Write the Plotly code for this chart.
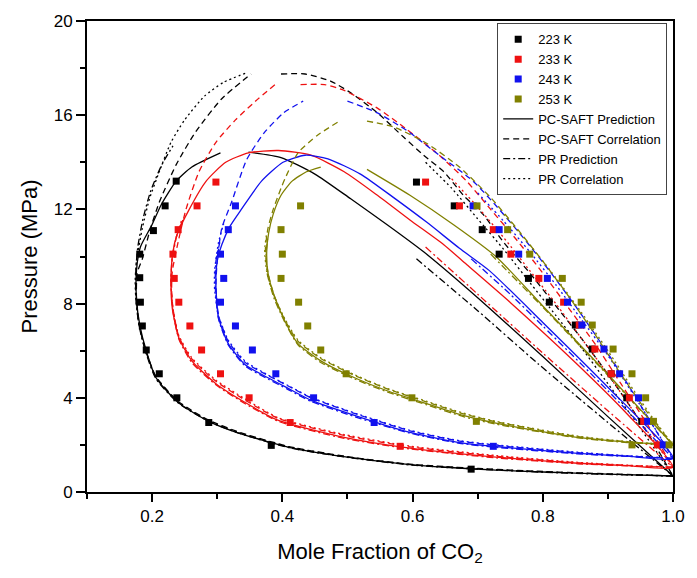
import plotly.graph_objects as go

# ---------------- experimental VLE data (mole fraction CO2, pressure MPa) ----------------
x223_exp = [0.237, 0.220, 0.202, 0.181, 0.181, 0.182, 0.185, 0.191, 0.211, 0.238, 0.287, 0.383, 0.690,
            0.606, 0.664, 0.707, 0.733, 0.778, 0.810, 0.850, 0.876, 0.905, 0.929, 0.952]
p223_exp = [13.2, 12.15, 11.1, 10.1, 9.1, 8.06, 7.05, 6.03, 5.02, 4.0, 2.95, 1.98, 0.97,
            13.16, 12.15, 11.14, 10.1, 9.07, 8.06, 7.09, 6.07, 5.02, 4.0, 3.0]

x233_exp = [0.298, 0.269, 0.240, 0.232, 0.234, 0.241, 0.258, 0.276, 0.305, 0.349, 0.412, 0.581,
            0.620, 0.672, 0.724, 0.751, 0.794, 0.832, 0.856, 0.880, 0.905, 0.933, 0.955, 0.976]
p233_exp = [13.16, 12.15, 11.14, 10.1, 9.07, 8.06, 7.05, 6.03, 5.02, 4.0, 2.95, 1.94,
            13.16, 12.15, 11.14, 10.1, 9.07, 8.06, 7.09, 6.07, 5.02, 4.0, 3.0, 2.0]

x243_exp = [0.328, 0.317, 0.305, 0.310, 0.305, 0.328, 0.354, 0.390, 0.448, 0.541, 0.724,
            0.693, 0.733, 0.763, 0.807, 0.838, 0.860, 0.894, 0.918, 0.947, 0.961, 0.985]
p243_exp = [12.15, 11.14, 10.1, 9.07, 8.06, 7.05, 6.03, 5.02, 4.0, 2.95, 1.94,
            12.15, 11.14, 10.1, 9.07, 8.06, 7.09, 6.07, 5.02, 4.0, 3.0, 2.0]

x253_exp = [0.428, 0.398, 0.400, 0.398, 0.425, 0.439, 0.459, 0.498, 0.599, 0.698, 0.937,
            0.699, 0.746, 0.780, 0.830, 0.859, 0.876, 0.908, 0.937, 0.958, 0.970, 0.994]
p253_exp = [12.15, 11.14, 10.1, 9.07, 8.06, 7.05, 6.03, 5.02, 4.0, 3.0, 2.0,
            12.15, 11.14, 10.1, 9.07, 8.06, 7.09, 6.07, 5.02, 4.0, 3.0, 2.0]

# ---------------- 223 K model curves ----------------
x223_saft_pred = [1.0, 0.9, 0.8, 0.728, 0.65, 0.6, 0.5, 0.41, 0.333, 0.287, 0.24, 0.206, 0.191, 0.181, 0.176,
                  0.176, 0.182, 0.199, 0.214, 0.237, 0.261, 0.305, None,
                  0.348, 0.398, 0.45, 0.505, 0.561, 0.617, 0.7, 0.8, 0.9, 1.0]
p223_saft_pred = [0.68, 0.76, 0.85, 0.93, 1.05, 1.15, 1.48, 1.9, 2.5, 3.0, 3.8, 4.85, 6.0, 7.1, 8.2,
                  9.4, 10.4, 11.3, 12.2, 13.2, 13.8, 14.4, None,
                  14.43, 14.2, 13.5, 12.45, 11.35, 10.2, 8.25, 5.75, 3.2, 0.68]

x223_saft_corr = [1.0, 0.9, 0.8, 0.7, 0.6, 0.5, 0.41, 0.333, 0.287, 0.24, 0.206, 0.19, 0.18, 0.176, 0.177,
                  0.185, 0.196, 0.211, 0.237, 0.267, 0.307, 0.352, None,
                  0.398, 0.435, 0.474, 0.505, 0.546, 0.587, 0.617, 0.648, 0.678, 0.708, 0.74, 0.78, 0.82,
                  0.86, 0.9, 0.94, 0.97, 1.0]
p223_saft_corr = [0.68, 0.77, 0.87, 1.0, 1.17, 1.5, 1.93, 2.55, 3.05, 3.85, 4.9, 6.0, 7.1, 8.2, 9.3,
                  9.9, 11.05, 12.3, 13.9, 15.3, 16.7, 17.75, None,
                  17.75, 17.75, 17.45, 16.95, 16.1, 15.05, 14.3, 13.6, 12.6, 11.8, 10.6, 9.3, 7.9,
                  6.5, 5.0, 3.4, 2.1, 0.68]

x223_pr_pred = [1.0, 0.9, 0.8, 0.7, 0.6, 0.5, 0.41, 0.333, 0.287, 0.24, 0.206, 0.19, 0.18, 0.175, 0.175,
                0.178, 0.186, 0.198, 0.215, 0.232, None, 0.606, 0.7, 0.793, 0.9, 1.0]
p223_pr_pred = [0.68, 0.75, 0.84, 0.97, 1.14, 1.47, 1.88, 2.5, 3.0, 3.78, 4.8, 5.95, 7.05, 8.2, 9.4,
                10.4, 11.6, 12.8, 13.9, 14.7, None, 9.9, 7.7, 5.44, 2.95, 0.68]

x223_pr_corr = [1.0, 0.9, 0.8, 0.7, 0.6, 0.5, 0.41, 0.333, 0.287, 0.24, 0.206, 0.19, 0.18, 0.175, 0.174,
                0.176, 0.185, 0.196, 0.211, 0.229, 0.25, 0.28, 0.31, 0.345, None,
                0.62, 0.66, 0.7, 0.74, 0.78, 0.82, 0.86, 0.9, 0.94, 0.97, 1.0]
p223_pr_corr = [0.68, 0.76, 0.86, 0.99, 1.16, 1.49, 1.92, 2.52, 3.02, 3.82, 4.88, 6.0, 7.1, 8.2, 9.0,
                9.8, 11.2, 12.45, 13.6, 14.85, 15.8, 16.8, 17.4, 17.8, None,
                14.0, 12.9, 11.6, 10.3, 8.9, 7.5, 6.1, 4.6, 3.1, 1.9, 0.68]

# ---------------- 233 K model curves ----------------
x233_saft_pred = [1.0, 0.93, 0.854, 0.728, 0.596, 0.495, 0.394, 0.343, 0.298, 0.261, 0.241, 0.231, 0.229,
                  0.232, 0.238, 0.257, 0.283, 0.313, 0.348, 0.394, 0.444, 0.495, 0.546, 0.596, 0.648,
                  0.683, 0.75, 0.85, 0.93, 1.0]
p233_saft_pred = [1.05, 1.12, 1.22, 1.48, 1.86, 2.32, 3.04, 3.8, 4.6, 5.57, 6.55, 7.8, 9.07,
                  10.2, 10.9, 12.0, 13.2, 14.0, 14.4, 14.5, 14.3, 13.6, 12.6, 11.55, 10.5,
                  9.66, 8.05, 5.5, 3.3, 1.05]

x233_saft_corr = [1.0, 0.93, 0.854, 0.728, 0.596, 0.495, 0.394, 0.343, 0.298, 0.261, 0.241, 0.232, 0.23,
                  0.231, 0.241, 0.252, 0.272, 0.298, 0.328, 0.359, 0.389, None,
                  0.428, 0.465, 0.495, 0.546, 0.591, 0.641, 0.683, 0.72, 0.76, 0.8, 0.84, 0.88, 0.92,
                  0.96, 1.0]
p233_saft_corr = [1.05, 1.13, 1.24, 1.52, 1.92, 2.4, 3.12, 3.9, 4.7, 5.65, 6.6, 7.8, 8.6,
                  9.37, 10.75, 12.0, 13.6, 14.85, 15.8, 16.6, 17.3, None,
                  17.3, 17.3, 17.05, 16.3, 15.4, 14.3, 13.2, 12.0, 10.7, 9.3, 7.8, 6.3, 4.6,
                  2.9, 1.05]

x233_pr_pred = [1.0, 0.93, 0.854, 0.728, 0.596, 0.495, 0.394, 0.343, 0.298, 0.261, 0.241, 0.232, 0.229,
                0.231, 0.238, 0.248, None, 0.62, 0.7, 0.8, 0.9, 1.0]
p233_pr_pred = [1.05, 1.11, 1.2, 1.45, 1.83, 2.28, 3.0, 3.75, 4.55, 5.5, 6.5, 7.7, 8.9,
                10.0, 10.9, 11.6, None, 10.4, 8.4, 5.9, 3.45, 1.05]

x233_pr_corr = [1.0, 0.93, 0.854, 0.728, 0.596, 0.495, 0.394, 0.343, 0.298, 0.261, 0.241, 0.232, 0.229,
                0.231, 0.237, 0.246, None, 0.66, 0.7, 0.74, 0.78, 0.82, 0.86, 0.9, 0.94, 0.97, 1.0]
p233_pr_corr = [1.05, 1.14, 1.26, 1.55, 1.95, 2.44, 3.15, 3.95, 4.75, 5.7, 6.65, 7.8, 8.9,
                9.9, 10.8, 11.6, None, 13.3, 12.1, 10.8, 9.4, 8.0, 6.5, 5.0, 3.4, 2.2, 1.05]

# ---------------- 243 K model curves ----------------
x243_saft_pred = [1.0, 0.93, 0.854, 0.728, 0.672, 0.596, 0.52, 0.444, 0.409, 0.378, 0.343, 0.317, 0.302,
                  0.298, 0.3, 0.307, 0.32, 0.337, 0.368, 0.401, 0.435, 0.47, 0.52, 0.571, 0.622, 0.672,
                  0.718, 0.8, 0.9, 1.0]
p243_saft_pred = [1.43, 1.52, 1.64, 1.93, 2.1, 2.53, 3.17, 3.9, 4.4, 4.85, 5.4, 6.3, 7.4,
                  8.8, 9.8, 10.5, 11.3, 12.0, 13.2, 14.0, 14.3, 14.15, 13.5, 12.5, 11.45, 10.35,
                  9.4, 7.2, 4.45, 1.43]

x243_saft_corr = [1.0, 0.93, 0.854, 0.728, 0.672, 0.596, 0.52, 0.444, 0.409, 0.378, 0.343, 0.317, 0.302,
                  0.298, 0.3, 0.307, 0.322, 0.345, 0.372, 0.402, 0.432, None,
                  0.5, 0.546, 0.591, 0.641, 0.693, 0.73, 0.77, 0.81, 0.85, 0.89, 0.93, 0.965, 1.0]
p243_saft_corr = [1.43, 1.53, 1.67, 1.98, 2.16, 2.6, 3.25, 4.0, 4.5, 4.95, 5.5, 6.4, 7.5,
                  8.8, 9.8, 11.2, 12.3, 14.1, 15.25, 16.1, 16.6, None,
                  16.6, 16.1, 15.35, 14.3, 13.2, 12.1, 10.8, 9.4, 7.9, 6.3, 4.6, 3.0, 1.43]

x243_pr_pred = [1.0, 0.93, 0.854, 0.728, 0.672, 0.596, 0.52, 0.444, 0.409, 0.378, 0.343, 0.317, 0.302,
                0.297, 0.298, 0.304, None, 0.69, 0.75, 0.8, 0.9, 1.0]
p243_pr_pred = [1.43, 1.51, 1.62, 1.9, 2.07, 2.5, 3.12, 3.85, 4.35, 4.8, 5.35, 6.25, 7.35,
                8.7, 9.8, 10.6, None, 9.9, 8.4, 7.05, 4.3, 1.43]

x243_pr_corr = [1.0, 0.93, 0.854, 0.728, 0.672, 0.596, 0.52, 0.444, 0.409, 0.378, 0.343, 0.317, 0.302,
                0.296, 0.296, 0.302, 0.31, None, 0.7, 0.74, 0.78, 0.82, 0.86, 0.9, 0.94, 0.97, 1.0]
p243_pr_corr = [1.43, 1.54, 1.69, 2.0, 2.18, 2.62, 3.27, 4.02, 4.52, 4.97, 5.55, 6.45, 7.5,
                8.6, 9.4, 10.6, 11.4, None, 12.7, 11.5, 10.2, 8.8, 7.3, 5.8, 4.1, 2.8, 1.43]

# ---------------- 253 K model curves ----------------
x253_saft_pred = [1.0, 0.93, 0.854, 0.728, 0.678, 0.622, 0.561, 0.511, 0.459, 0.424, 0.404, 0.388, 0.378,
                  0.376, 0.379, 0.386, 0.398, 0.415, 0.437, 0.459, None,
                  0.53, 0.596, 0.663, 0.728, 0.8, 0.9, 1.0]
p253_saft_pred = [2.0, 2.12, 2.32, 2.92, 3.25, 3.75, 4.3, 4.85, 5.57, 6.3, 7.25, 8.3, 9.3,
                  10.2, 11.0, 11.8, 12.6, 13.2, 13.6, 13.8, None,
                  13.7, 12.6, 11.35, 10.0, 7.9, 5.0, 2.0]

x253_saft_corr = [1.0, 0.93, 0.854, 0.728, 0.678, 0.622, 0.561, 0.511, 0.459, 0.424, 0.404, 0.388, 0.378,
                  0.374, 0.378, 0.386, 0.398, 0.404, 0.424, 0.454, 0.485, None,
                  0.53, 0.571, 0.622, 0.672, 0.72, 0.76, 0.8, 0.84, 0.88, 0.92, 0.96, 1.0]
p253_saft_corr = [2.0, 2.13, 2.35, 2.98, 3.32, 3.82, 4.38, 4.95, 5.67, 6.4, 7.3, 8.3, 9.3,
                  10.3, 11.2, 12.0, 12.9, 13.3, 14.4, 15.15, 15.7, None,
                  15.75, 15.5, 14.8, 13.8, 12.5, 11.2, 9.8, 8.3, 6.7, 5.0, 3.4, 2.0]

x253_pr_pred = [1.0, 0.93, 0.854, 0.728, 0.678, 0.622, 0.561, 0.511, 0.459, 0.424, 0.404, 0.387, 0.377,
                0.375, 0.378, None, 0.72, 0.8, 0.9, 1.0]
p253_pr_pred = [2.0, 2.1, 2.3, 2.88, 3.2, 3.7, 4.25, 4.8, 5.5, 6.25, 7.2, 8.25, 9.25,
                10.1, 10.9, None, 10.1, 7.85, 4.95, 2.0]

x253_pr_corr = [1.0, 0.93, 0.854, 0.728, 0.678, 0.622, 0.561, 0.511, 0.459, 0.424, 0.404, 0.387, 0.376,
                0.373, 0.376, None, 0.74, 0.78, 0.82, 0.86, 0.9, 0.94, 0.97, 1.0]
p253_pr_corr = [2.0, 2.14, 2.37, 3.0, 3.35, 3.85, 4.4, 4.98, 5.7, 6.45, 7.35, 8.35, 9.35,
                10.3, 11.0, None, 11.8, 10.5, 9.1, 7.6, 6.0, 4.3, 3.1, 2.0]

temperatures = ["223 K", "233 K", "243 K", "253 K"]
colors = ["#000000", "#ee1111", "#1111ee", "#808000"]
model_names = ["PC-SAFT Prediction", "PC-SAFT Correlation", "PR Prediction", "PR Correlation"]
dash_styles = ["solid", "6px,4px", "7px,3px,2px,3px", "2px,3px"]

exp_sets = [(x223_exp, p223_exp), (x233_exp, p233_exp), (x243_exp, p243_exp), (x253_exp, p253_exp)]
model_sets = [
    [(x223_saft_pred, p223_saft_pred), (x223_saft_corr, p223_saft_corr),
     (x223_pr_pred, p223_pr_pred), (x223_pr_corr, p223_pr_corr)],
    [(x233_saft_pred, p233_saft_pred), (x233_saft_corr, p233_saft_corr),
     (x233_pr_pred, p233_pr_pred), (x233_pr_corr, p233_pr_corr)],
    [(x243_saft_pred, p243_saft_pred), (x243_saft_corr, p243_saft_corr),
     (x243_pr_pred, p243_pr_pred), (x243_pr_corr, p243_pr_corr)],
    [(x253_saft_pred, p253_saft_pred), (x253_saft_corr, p253_saft_corr),
     (x253_pr_pred, p253_pr_pred), (x253_pr_corr, p253_pr_corr)],
]

FONT = "Liberation Sans, Arial, sans-serif"

fig = go.Figure()

# model curves
for color, models in zip(colors, model_sets):
    for (xs, ps), dash in zip(models, dash_styles):
        fig.add_trace(go.Scatter(
            x=xs, y=ps, mode="lines", showlegend=False, hoverinfo="skip",
            line=dict(color=color, width=1.3, dash=dash, shape="spline", smoothing=0.6),
            connectgaps=False,
        ))

# experimental points
for name, color, (xs, ps) in zip(temperatures, colors, exp_sets):
    fig.add_trace(go.Scatter(
        x=xs, y=ps, mode="markers", name=name,
        marker=dict(symbol="square", size=7, color=color, line=dict(width=0)),
    ))

# legend entries for the line styles
for name, dash in zip(model_names, dash_styles):
    fig.add_trace(go.Scatter(
        x=[None], y=[None], mode="lines", name=name,
        line=dict(color="#000000", width=1.3, dash=dash),
    ))

fig.update_layout(
    width=697, height=578,
    margin=dict(l=87, r=18, t=18, b=86),
    paper_bgcolor="white", plot_bgcolor="white",
    font=dict(family=FONT, size=17, color="#000000"),
    showlegend=True,
    legend=dict(
        x=0.70, y=0.995, xanchor="left", yanchor="top",
        bgcolor="white", bordercolor="#444444", borderwidth=1,
        font=dict(family=FONT, size=13, color="#000000"),
        itemwidth=30, tracegroupgap=0, traceorder="normal",
    ),
    xaxis=dict(
        range=[0.1, 1.0], tickvals=[0.2, 0.4, 0.6, 0.8, 1.0], ticktext=["0.2", "0.4", "0.6", "0.8", "1.0"],
        ticks="outside", ticklen=8, tickwidth=1.5, tickcolor="#000000",
        minor=dict(tickvals=[0.1, 0.3, 0.5, 0.7, 0.9], ticks="outside", ticklen=5, tickwidth=1.5,
                   tickcolor="#000000"),
        showline=True, linecolor="#000000", linewidth=2, mirror=True,
        showgrid=False, zeroline=False,
        tickfont=dict(family=FONT, size=17),
        title=dict(text="Mole Fraction of CO<sub>2</sub>", font=dict(family=FONT, size=22), standoff=18),
    ),
    yaxis=dict(
        range=[0, 20], tickvals=[0, 4, 8, 12, 16, 20],
        ticks="outside", ticklen=9, tickwidth=1.5, tickcolor="#000000",
        minor=dict(tickvals=[2, 6, 10, 14, 18], ticks="outside", ticklen=5, tickwidth=1.5,
                   tickcolor="#000000"),
        showline=True, linecolor="#000000", linewidth=2, mirror=True,
        showgrid=False, zeroline=False,
        tickfont=dict(family=FONT, size=17),
        title=dict(text="Pressure (MPa)", font=dict(family=FONT, size=22), standoff=10),
    ),
)

fig.write_html("out.html")
